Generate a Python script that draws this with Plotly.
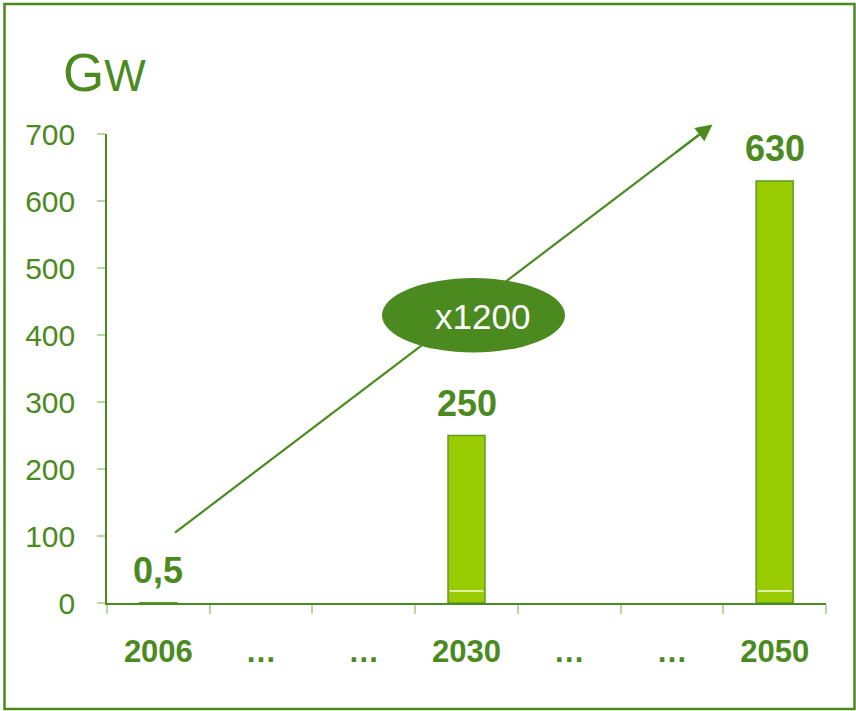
import plotly.graph_objects as go

# ---- data ----
categories = ["2006", "…", "…", "2030", "…", "…", "2050"]
bar_positions = [0, 3, 6]
bar_values = [0.5, 250, 630]
bar_labels = ["0,5", "250", "630"]
y_ticks = [0, 100, 200, 300, 400, 500, 600, 700]
growth_label = "x1200"
unit_label = "G<span style='font-size:44px'>W</span>"

GREEN = "#4b8a1f"
LIGHT = "#b9d8a0"
BAR = "#99cc00"
FONT = "Liberation Sans, Arial, sans-serif"

fig = go.Figure()
fig.add_trace(go.Bar(
    x=bar_positions, y=bar_values, width=0.36,
    marker=dict(color=BAR, line=dict(color="#5c9a2a", width=1.5)),
    hoverinfo="skip",
))

# value labels
for xp, v, lab in zip(bar_positions, bar_values, bar_labels):
    fig.add_annotation(x=xp, y=v, text="<b>%s</b>" % lab, showarrow=False,
                       yanchor="middle", yshift=32,
                       font=dict(family=FONT, size=36, color=GREEN))

# thin light lines near bar bottoms
for xp, v in zip(bar_positions[1:], bar_values[1:]):
    fig.add_shape(type="line", xref="x", yref="y", x0=xp - 0.165, x1=xp + 0.165,
                  y0=18, y1=18, line=dict(color="#f4fbe0", width=1.5))

# arrow: line + ellipse covering + head
ax0, ay0, ax1, ay1 = 0.162, 105, 5.395, 714
frac = 0.07
tx, ty = ax1 - frac * (ax1 - ax0), ay1 - frac * (ay1 - ay0)
lx, ly = ax1 - 0.02 * (ax1 - ax0), ay1 - 0.02 * (ay1 - ay0)
fig.add_shape(type="line", xref="x", yref="y", x0=ax0, y0=ay0, x1=lx, y1=ly,
              line=dict(color=GREEN, width=2.2))
fig.add_shape(type="circle", xref="x", yref="y", x0=2.177, x1=3.959, y0=374, y1=485,
              fillcolor=GREEN, line=dict(width=0))
fig.add_annotation(x=ax1, y=ay1, ax=tx, ay=ty, axref="x", ayref="y",
                   xref="x", yref="y", text="", showarrow=True, arrowhead=2,
                   arrowsize=1.5, arrowwidth=2.2, arrowcolor=GREEN, standoff=0)
fig.add_annotation(x=3.16, y=428, text=growth_label, showarrow=False,
                   font=dict(family=FONT, size=35, color="white"))

# unit title
fig.add_annotation(xref="paper", yref="paper", x=-0.064, y=1.063, xanchor="left",
                   yanchor="bottom", text=unit_label, showarrow=False,
                   font=dict(family=FONT, size=53, color=GREEN))

# frame
fig.add_shape(type="rect", xref="paper", yref="paper",
              x0=(4.5 - 107) / 719, x1=(854.5 - 107) / 719,
              y0=(603 - 709) / 469, y1=(603 - 4) / 469,
              line=dict(color=GREEN, width=2.5), fillcolor="rgba(0,0,0,0)")

fig.update_layout(
    width=856, height=711,
    margin=dict(l=107, r=30, t=134, b=108),
    paper_bgcolor="white", plot_bgcolor="white",
    showlegend=False,
    xaxis=dict(range=[-0.5, 6.5], tickvals=list(range(len(categories))),
               ticktext=["<b>%s</b>" % c for c in categories],
               ticks="", showgrid=False, zeroline=False,
               showline=True, linecolor=GREEN, linewidth=1.5,
               tickfont=dict(family=FONT, size=31, color=GREEN),
               ticklabelstandoff=20,
               minor=dict(tickvals=[i - 0.5 for i in range(len(categories) + 1)],
                          ticks="outside", ticklen=9, tickcolor=LIGHT, tickwidth=1.5,
                          showgrid=False)),
    yaxis=dict(range=[0, 700], tickvals=y_ticks, ticks="outside", ticklen=8,
               tickcolor=LIGHT, tickwidth=1.5, showgrid=False, zeroline=False,
               showline=True, linecolor=GREEN, linewidth=1.5,
               tickfont=dict(family=FONT, size=30, color=GREEN),
               ticklabelstandoff=16),
)

fig.write_html("out.html", config={"displayModeBar": False},
               post_script="document.body.style.margin='0';document.body.style.overflow='hidden';")
